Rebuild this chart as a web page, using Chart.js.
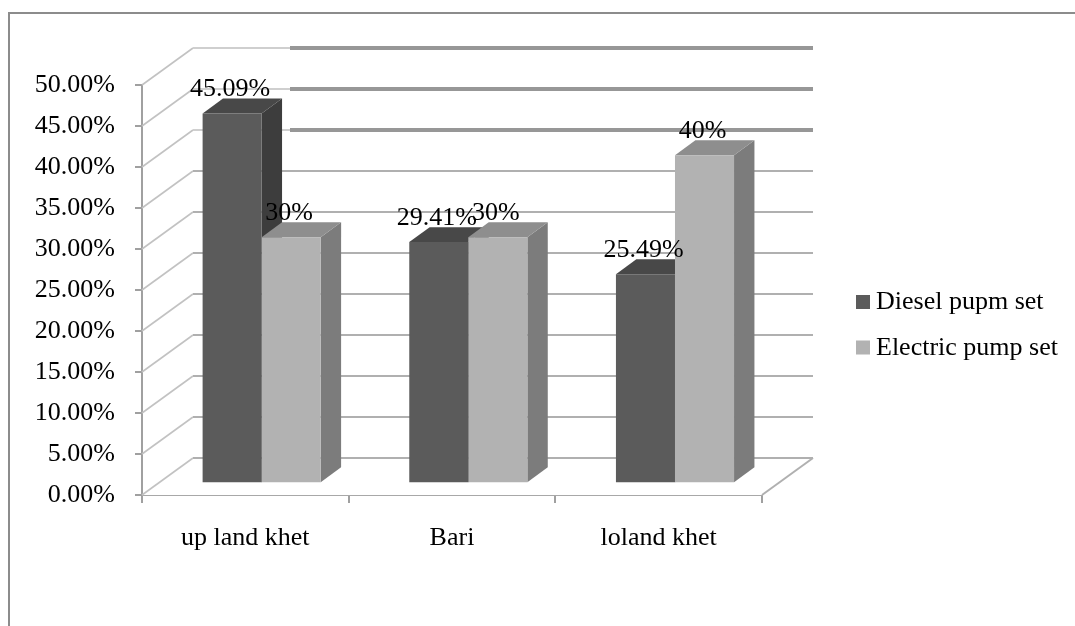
<!DOCTYPE html>
<html>
<head>
<meta charset="utf-8">
<script src="https://cdn.jsdelivr.net/npm/chart.js@4.4.1/dist/chart.umd.min.js"></script>
<style>
  html, body { margin: 0; padding: 0; background: #ffffff; }
  canvas { display: block; }
</style>
</head>
<body>
<canvas id="chart" width="1075" height="626"></canvas>
<script>
// Share of irrigation pump sets by land type (percent)
const categories = ['up land khet', 'Bari', 'loland khet'];
const seriesNames = ['Diesel pupm set', 'Electric pump set'];
const dieselValues = [45.09, 29.41, 25.49];
const electricValues = [30, 30, 40];
const yMin = 0;
const yMax = 50;
const yStep = 5;

// Shading for each series: front, top and side faces of the boxes
const seriesFront = ['#5b5b5b', '#b2b2b2'];
const seriesTop = ['#484848', '#8e8e8e'];
const seriesSide = ['#3d3d3d', '#7c7c7c'];

const FONT = '"Liberation Serif", "Times New Roman", serif';
const DEPTH = { x: 51, y: -37 };   // full depth of the floor / walls
const BAR_FRONT = 0.32;            // where the bar fronts sit inside the depth
const BAR_DEPTH = 0.40;            // thickness of the bars

function pctLabel(v) {
  return (Number.isInteger(v) ? String(v) : v.toFixed(2)) + '%';
}

function poly(ctx, pts, fill) {
  ctx.beginPath();
  ctx.moveTo(pts[0][0], pts[0][1]);
  for (let i = 1; i < pts.length; i++) ctx.lineTo(pts[i][0], pts[i][1]);
  ctx.closePath();
  ctx.fillStyle = fill;
  ctx.fill();
}

const box3d = {
  id: 'box3d',
  beforeDatasetsDraw(chart) {
    const { ctx, chartArea: a, scales: { y } } = chart;
    ctx.save();
    // floor
    const y0 = y.getPixelForValue(0);
    poly(ctx, [[a.left, y0], [a.right, y0], [a.right + DEPTH.x, y0 + DEPTH.y], [a.left + DEPTH.x, y0 + DEPTH.y]], '#ffffff');
    ctx.lineCap = 'butt';
    // side wall diagonals and back wall grid
    y.ticks.forEach(t => {
      const py = y.getPixelForValue(t.value);
      ctx.strokeStyle = '#c2c2c2';
      ctx.lineWidth = 1.6;
      ctx.beginPath();
      ctx.moveTo(a.left, py);
      ctx.lineTo(a.left + DEPTH.x, py + DEPTH.y);
      ctx.stroke();
      const bx0 = a.left + DEPTH.x, bx1 = a.right + DEPTH.x, by = py + DEPTH.y;
      if (t.value >= 40) {
        const split = bx0 + 97;
        ctx.strokeStyle = '#cfcfcf';
        ctx.lineWidth = 2;
        ctx.beginPath(); ctx.moveTo(bx0, by); ctx.lineTo(split, by); ctx.stroke();
        ctx.strokeStyle = '#979797';
        ctx.lineWidth = 4;
        ctx.beginPath(); ctx.moveTo(split, by); ctx.lineTo(bx1, by); ctx.stroke();
      } else {
        ctx.strokeStyle = '#b0b0b0';
        ctx.lineWidth = 2;
        ctx.beginPath(); ctx.moveTo(bx0, by); ctx.lineTo(bx1, by); ctx.stroke();
      }
    });
    // right edge of the floor
    ctx.strokeStyle = '#b0b0b0';
    ctx.lineWidth = 2;
    ctx.beginPath();
    ctx.moveTo(a.right, y0);
    ctx.lineTo(a.right + DEPTH.x, y0 + DEPTH.y);
    ctx.stroke();
    ctx.restore();

    // bars sit set back inside the depth; their side and top faces go
    // underneath the front faces that the bar controller paints next
    ctx.save();
    ctx.translate(DEPTH.x * BAR_FRONT, DEPTH.y * BAR_FRONT);
    const dx = DEPTH.x * BAR_DEPTH, dy = DEPTH.y * BAR_DEPTH;
    chart.data.datasets.forEach((ds, i) => {
      chart.getDatasetMeta(i).data.forEach(bar => {
        const p = bar.getProps(['x', 'y', 'base', 'width'], true);
        const x0 = p.x - p.width / 2, x1 = p.x + p.width / 2;
        poly(ctx, [[x1, p.y], [x1 + dx, p.y + dy], [x1 + dx, p.base + dy], [x1, p.base]], seriesSide[i]);
        poly(ctx, [[x0, p.y], [x1, p.y], [x1 + dx, p.y + dy], [x0 + dx, p.y + dy]], seriesTop[i]);
      });
    });
  },
  afterDatasetsDraw(chart) {
    const ctx = chart.ctx;
    ctx.restore();
    // value labels above each bar
    ctx.save();
    ctx.font = '26px ' + FONT;
    ctx.fillStyle = '#000000';
    ctx.textAlign = 'center';
    ctx.textBaseline = 'alphabetic';
    const ox = DEPTH.x * BAR_FRONT, oy = DEPTH.y * BAR_FRONT;
    chart.data.datasets.forEach((ds, di) => {
      chart.getDatasetMeta(di).data.forEach((bar, k) => {
        const p = bar.getProps(['x', 'y'], true);
        ctx.fillText(pctLabel(ds.data[k]), p.x + ox - 2, p.y + oy - 17);
      });
    });
    ctx.restore();
  },
  afterDraw(chart) {
    const ctx = chart.ctx;
    ctx.save();
    // legend
    ctx.font = '26px ' + FONT;
    ctx.textAlign = 'left';
    ctx.textBaseline = 'alphabetic';
    chart.data.datasets.forEach((ds, di) => {
      const top = 295 + di * 45.5;
      ctx.fillStyle = seriesFront[di];
      ctx.fillRect(856, top, 14, 14);
      ctx.fillStyle = '#000000';
      ctx.fillText(ds.label, 876, top + 14);
    });
    // outer frame
    ctx.strokeStyle = '#8c8c8c';
    ctx.lineWidth = 2;
    ctx.beginPath();
    ctx.moveTo(9, 626);
    ctx.lineTo(9, 13);
    ctx.lineTo(1075, 13);
    ctx.stroke();
    ctx.restore();
  }
};

new Chart(document.getElementById('chart'), {
  type: 'bar',
  data: {
    labels: categories,
    datasets: [
      { label: seriesNames[0], data: dieselValues, backgroundColor: seriesFront[0], clip: false },
      { label: seriesNames[1], data: electricValues, backgroundColor: seriesFront[1], clip: false }
    ]
  },
  options: {
    responsive: false,
    animation: false,
    events: [],
    layout: { padding: { left: 0, right: 313, top: 85, bottom: 0 } },
    datasets: { bar: { barPercentage: 1, categoryPercentage: 2 / 3.5 } },
    plugins: { legend: { display: false }, tooltip: { enabled: false } },
    scales: {
      x: {
        offset: true,
        grid: { offset: true, drawOnChartArea: false, tickLength: 8, color: '#a0a0a0', lineWidth: 2 },
        border: { display: true, color: '#a8a8a8', width: 2 },
        ticks: { color: '#000000', font: { family: FONT, size: 26 }, padding: 20, maxRotation: 0 },
        afterFit(scale) { scale.height = 131; }
      },
      y: {
        min: yMin,
        max: yMax,
        grid: { drawOnChartArea: false, tickLength: 7, color: '#a0a0a0', lineWidth: 2 },
        border: { display: true, color: '#a0a0a0', width: 2 },
        ticks: {
          stepSize: yStep,
          color: '#000000',
          font: { family: FONT, size: 26 },
          padding: 20,
          callback: v => v.toFixed(2) + '%'
        },
        afterFit(scale) { scale.width = 142; }
      }
    }
  },
  plugins: [box3d]
});
</script>
</body>
</html>
